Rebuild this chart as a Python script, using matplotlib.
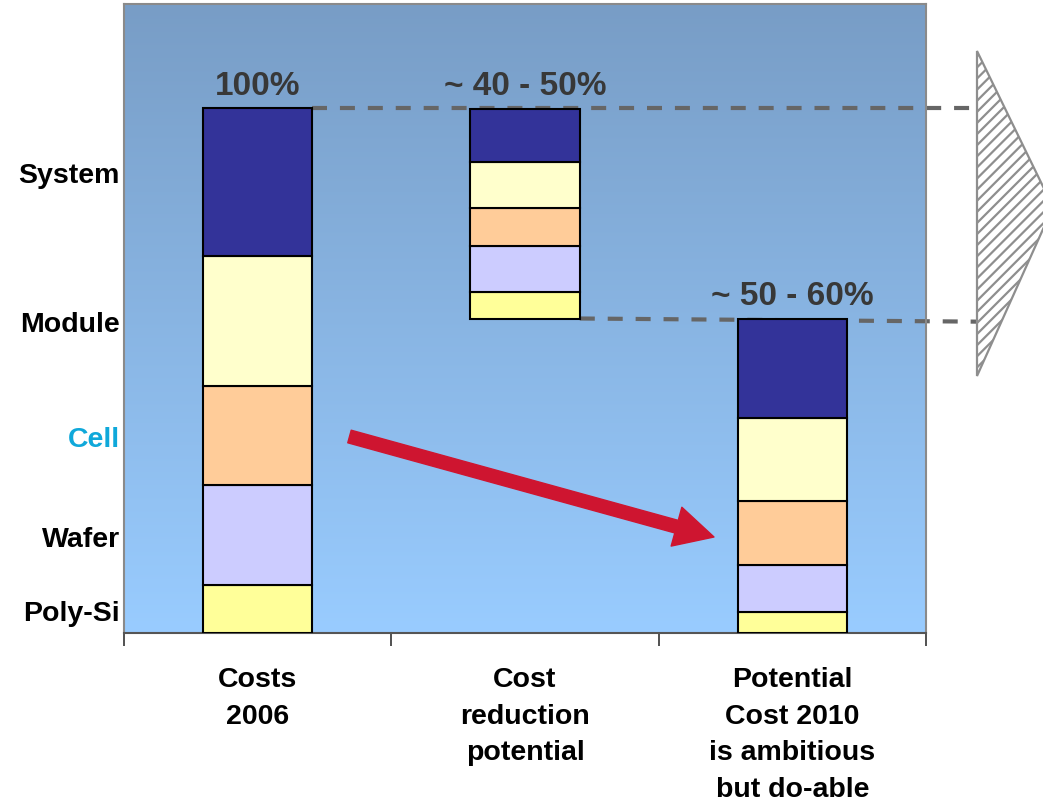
import matplotlib.pyplot as plt
import numpy as np
from matplotlib.colors import LinearSegmentedColormap
from matplotlib.patches import FancyArrowPatch, Polygon

plt.rcParams["font.family"] = ["Liberation Sans", "DejaVu Sans"]
plt.rcParams["hatch.linewidth"] = 1.6
plt.rcParams["hatch.color"] = "#8e8e8e"

categories = ["Costs\n2006", "Cost\nreduction\npotential",
              "Potential\nCost 2010\nis ambitious\nbut do-able"]
components = ["Poly-Si", "Wafer", "Cell", "Module", "System"]
poly = [9.1, 5.1, 4.0]
wafer = [19.1, 8.8, 8.9]
cell = [19.0, 7.1, 12.2]
module = [24.7, 8.8, 15.9]
system = [28.2, 10.2, 18.9]
bar_base = [0, 60, 0]
level_labels = ["100%", "~ 40 - 50%", "~ 50 - 60%"]
component_label_y = [4.3, 18.6, 37.5, 59.6, 88.0]

seg_colors = ["#FFFF99", "#CCCCFF", "#FFCC99", "#FFFFCC", "#333399"]
label_colors = ["black", "black", "#0FA8DA", "black", "black"]

fig = plt.figure(figsize=(10.43, 8.03), dpi=100)
ax = fig.add_axes([124 / 1043, 1 - 634 / 803, 802 / 1043, 629 / 803])
ax.set_xlim(-0.5, 2.5)
ax.set_ylim(0, 120)

# background gradient
grad = LinearSegmentedColormap.from_list("bg", ["#99CCFF", "#789DC6"])
ax.imshow(np.linspace(0, 1, 256).reshape(-1, 1), cmap=grad, origin="lower",
          extent=(-0.5, 2.5, 0, 120), aspect="auto", zorder=0)

x = np.arange(len(categories))
bottom = np.array(bar_base, dtype=float)
for vals, col in zip([poly, wafer, cell, module, system], seg_colors):
    ax.bar(x, vals, width=0.41, bottom=bottom, color=col,
           edgecolor="black", linewidth=1.5, zorder=3)
    bottom = bottom + np.array(vals)
tops = bottom

for xi, top, lab in zip(x, tops, level_labels):
    ax.annotate(lab, (xi, top), xytext=(0, 10.5), textcoords="offset points",
                ha="center", va="baseline", fontsize=24, fontweight="bold",
                color="#383838")

# dashed connector lines running to the arrow on the right
trans = ax.get_yaxis_transform()
x_end = (977 - 124) / 802
x0 = (0 + 0.205 + 0.5) / 3
ax.plot([x0, x_end], [tops[0], tops[0]], transform=trans, color="#666666",
        lw=3, ls=(0, (3.6, 3.1)), clip_on=False, zorder=2)
x1 = (1 + 0.205 + 0.5) / 3
ax.plot([x1, x_end], [bar_base[1], bar_base[1] - 0.6], transform=trans,
        color="#666666", lw=3, ls=(0, (3.6, 3.1)), clip_on=False, zorder=2)

# hatched arrow outside the plot
tri = Polygon([(977 / 1043, 1 - 52 / 803), (1053 / 1043, 1 - 208 / 803),
               (977 / 1043, 1 - 377 / 803)], closed=True,
              transform=fig.transFigure, facecolor="white",
              edgecolor="#8e8e8e", linewidth=1.6, hatch="///")
fig.add_artist(tri)

# red trend arrow
arr = FancyArrowPatch((349.5 / 1043, 1 - 437.5 / 803), (714 / 1043, 1 - 538 / 803),
                      transform=fig.transFigure,
                      arrowstyle="simple,head_length=28,head_width=29,tail_width=9.4",
                      mutation_scale=1, color="#CE1530", shrinkA=0, shrinkB=0,
                      zorder=4)
fig.add_artist(arr)

# axes styling
ax.set_xticks(x)
ax.set_xticklabels(categories, fontsize=20.5, fontweight="bold", linespacing=1.52)
ax.set_xticks([-0.5, 0.5, 1.5, 2.5], minor=True)
ax.tick_params(axis="x", which="major", length=0, pad=24)
ax.tick_params(axis="x", which="minor", length=9, width=1.2, color="#333333",
               direction="out")
ax.set_yticks(component_label_y)
ax.set_yticklabels(components, fontsize=20.5, fontweight="bold")
for t, c in zip(ax.get_yticklabels(), label_colors):
    t.set_color(c)
ax.tick_params(axis="y", length=0, pad=3)

for side in ["left", "top", "right"]:
    ax.spines[side].set_color("#8a8a8a")
    ax.spines[side].set_linewidth(1.5)
ax.spines["bottom"].set_color("#555555")
ax.spines["bottom"].set_linewidth(1.5)

fig.savefig("out.png", dpi=100)
